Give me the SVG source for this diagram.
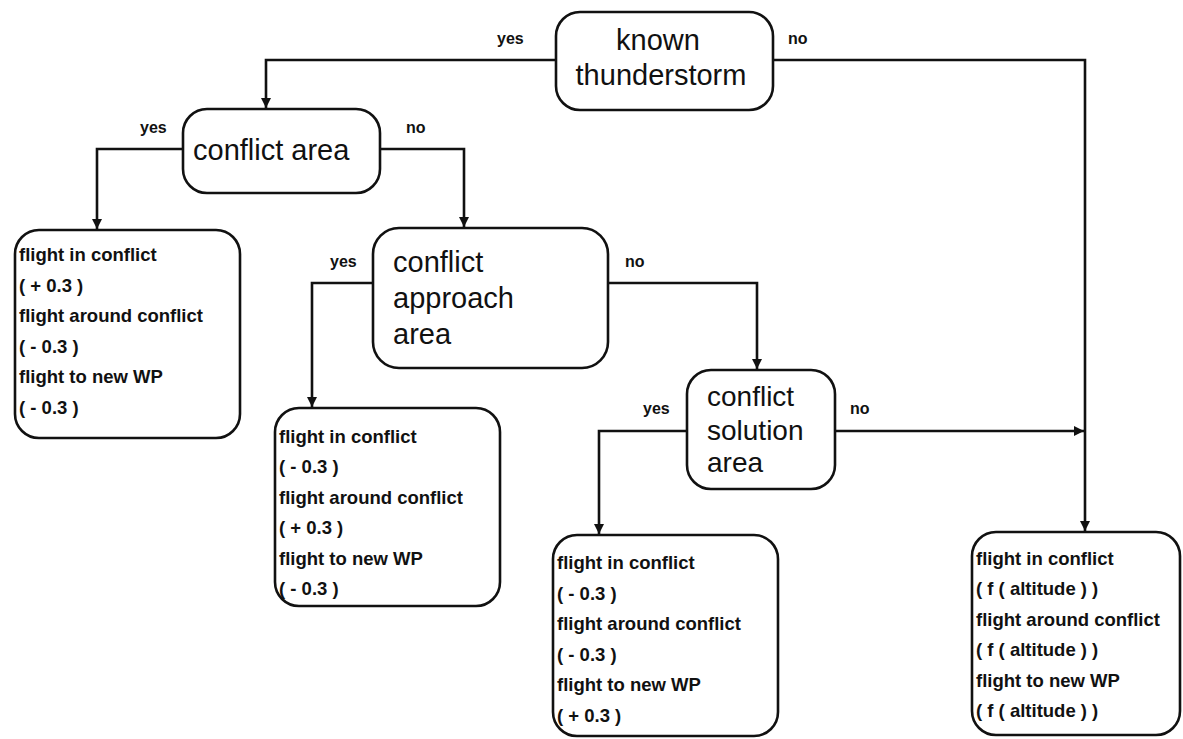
<svg xmlns="http://www.w3.org/2000/svg" width="1183" height="739" viewBox="0 0 1183 739">
<style>
.box{fill:#fff;stroke:#111;stroke-width:2.6}
.dec{font-family:"Liberation Sans",Arial,sans-serif;font-size:29px;fill:#111}
.res{font-family:"Liberation Sans",Arial,sans-serif;font-size:18.5px;font-weight:bold;fill:#111}
.lbl{font-family:"Liberation Sans",Arial,sans-serif;font-size:16px;font-weight:bold;fill:#111}
.edge{fill:none;stroke:#111;stroke-width:2.6}
</style>
<defs>
<marker id="arr" viewBox="0 0 10 10" refX="10" refY="5" markerWidth="4" markerHeight="4" markerUnits="strokeWidth" orient="auto">
<path d="M0,0 L10,5 L0,10 z" fill="#111"/>
</marker>
</defs>
<rect width="1183" height="739" fill="#fff"/>
<g id="connectors">
<path class="edge" d="M556,60 H266 V108" marker-end="url(#arr)"/>
<path class="edge" d="M773,60 H1085 V531" marker-end="url(#arr)"/>
<path class="edge" d="M183,149 H97 V229" marker-end="url(#arr)"/>
<path class="edge" d="M380,149 H464 V227" marker-end="url(#arr)"/>
<path class="edge" d="M373,283 H312 V407" marker-end="url(#arr)"/>
<path class="edge" d="M608,283 H757 V369" marker-end="url(#arr)"/>
<path class="edge" d="M687,431 H599 V534" marker-end="url(#arr)"/>
<path class="edge" d="M835,431 H1084" marker-end="url(#arr)"/>
<text class="lbl" x="497" y="44">yes</text>
<text class="lbl" x="788" y="44">no</text>
<text class="lbl" x="140" y="133">yes</text>
<text class="lbl" x="406" y="133">no</text>
<text class="lbl" x="330" y="267">yes</text>
<text class="lbl" x="625" y="267">no</text>
<text class="lbl" x="643" y="414">yes</text>
<text class="lbl" x="850" y="414">no</text>
</g>
<g id="known-thunderstorm">
<rect class="box" x="556" y="12" width="217" height="98" rx="24"/>
<text class="dec" x="658" y="50" text-anchor="middle">known</text>
<text class="dec" x="661" y="85" text-anchor="middle">thunderstorm</text>
</g>
<g id="conflict-area">
<rect class="box" x="183" y="109" width="197" height="84" rx="24"/>
<text class="dec" x="193" y="160">conflict area</text>
</g>
<g id="conflict-approach-area">
<rect class="box" x="373" y="228" width="235" height="140" rx="26"/>
<text class="dec" x="393" y="272">conflict</text>
<text class="dec" x="393" y="308">approach</text>
<text class="dec" x="393" y="344">area</text>
</g>
<g id="conflict-solution-area">
<rect class="box" x="687" y="370" width="148" height="119" rx="24"/>
<text class="dec" x="707" y="406" style="font-size:28px">conflict</text>
<text class="dec" x="707" y="440" style="font-size:28px">solution</text>
<text class="dec" x="707" y="472" style="font-size:28px">area</text>
</g>
<g id="result-conflict-area">
<rect class="box" x="15" y="230" width="225" height="208" rx="24"/>
<text class="res" x="19" y="261">flight in conflict</text>
<text class="res" x="19" y="292">( + 0.3 )</text>
<text class="res" x="19" y="322">flight around conflict</text>
<text class="res" x="19" y="353">( - 0.3 )</text>
<text class="res" x="19" y="383">flight to new WP</text>
<text class="res" x="19" y="414">( - 0.3 )</text>
</g>
<g id="result-approach-area">
<rect class="box" x="275" y="408" width="225" height="198" rx="24"/>
<text class="res" x="279" y="443">flight in conflict</text>
<text class="res" x="279" y="473">( - 0.3 )</text>
<text class="res" x="279" y="504">flight around conflict</text>
<text class="res" x="279" y="534">( + 0.3 )</text>
<text class="res" x="279" y="565">flight to new WP</text>
<text class="res" x="279" y="595">( - 0.3 )</text>
</g>
<g id="result-solution-area">
<rect class="box" x="553" y="535" width="225" height="201" rx="24"/>
<text class="res" x="557" y="569">flight in conflict</text>
<text class="res" x="557" y="600">( - 0.3 )</text>
<text class="res" x="557" y="630">flight around conflict</text>
<text class="res" x="557" y="661">( - 0.3 )</text>
<text class="res" x="557" y="691">flight to new WP</text>
<text class="res" x="557" y="722">( + 0.3 )</text>
</g>
<g id="result-no-thunderstorm">
<rect class="box" x="972" y="532" width="208" height="203" rx="24"/>
<text class="res" x="976" y="565">flight in conflict</text>
<text class="res" x="976" y="595">( f ( altitude ) )</text>
<text class="res" x="976" y="626">flight around conflict</text>
<text class="res" x="976" y="656">( f ( altitude ) )</text>
<text class="res" x="976" y="687">flight to new WP</text>
<text class="res" x="976" y="717">( f ( altitude ) )</text>
</g>
</svg>
